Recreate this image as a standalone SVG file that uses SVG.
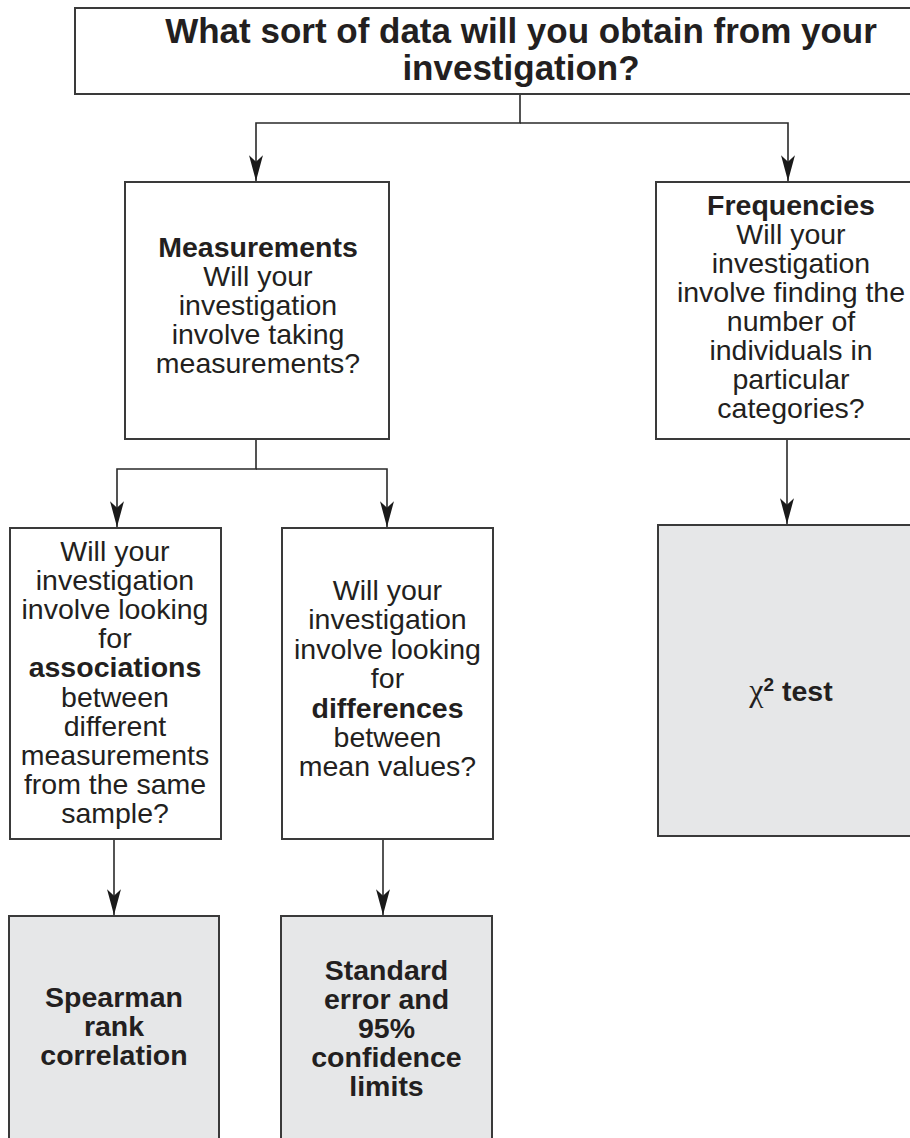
<svg xmlns="http://www.w3.org/2000/svg" width="910" height="1138" viewBox="0 0 910 1138">
<style>
.box{fill:#ffffff;stroke:#3a3a3a;stroke-width:2}
.res{fill:#e6e7e8;stroke:#3a3a3a;stroke-width:2}
.t{font-family:"Liberation Sans",Arial,sans-serif;font-size:28.5px;fill:#231f20;text-anchor:middle}
.b{font-weight:bold}
.title{font-family:"Liberation Sans",Arial,sans-serif;font-size:35px;font-weight:bold;fill:#231f20;text-anchor:middle}
.c{fill:none;stroke:#2a2a2a;stroke-width:1.6}
</style>
<defs>
<marker id="ah" markerUnits="userSpaceOnUse" markerWidth="30" markerHeight="20" viewBox="-26 -8 28 16" refX="0" refY="0" orient="auto">
<path d="M0,0 L-24,-6.5 L-18,0 L-24,6.5 Z" fill="#1a1a1a"/>
</marker>
</defs>
<rect width="910" height="1138" fill="#ffffff"/>

<g id="connectors">
<polyline class="c" points="520,94 520,123 256,123 256,181" marker-end="url(#ah)"/>
<polyline class="c" points="520,123 788,123 788,181" marker-end="url(#ah)"/>
<polyline class="c" points="256,439 256,469 117,469 117,527" marker-end="url(#ah)"/>
<polyline class="c" points="256,469 387,469 387,527" marker-end="url(#ah)"/>
<polyline class="c" points="787,439 787,524" marker-end="url(#ah)"/>
<polyline class="c" points="114,840 114,915" marker-end="url(#ah)"/>
<polyline class="c" points="383,840 383,915" marker-end="url(#ah)"/>
</g>

<g id="n-title">
<rect class="box" x="75" y="8" width="890" height="86"/>
<text class="title" x="521" y="43">What sort of data will you obtain from your</text>
<text class="title" x="521" y="80">investigation?</text>
</g>

<g id="n-measurements">
<rect class="box" x="125" y="182" width="264" height="257"/>
<text class="t" x="258" y="257"><tspan class="b" x="258">Measurements</tspan><tspan x="258" dy="29">Will your</tspan><tspan x="258" dy="29">investigation</tspan><tspan x="258" dy="29">involve taking</tspan><tspan x="258" dy="29">measurements?</tspan></text>
</g>

<g id="n-frequencies">
<rect class="box" x="656" y="182" width="264" height="257"/>
<text class="t" x="791" y="215"><tspan class="b" x="791">Frequencies</tspan><tspan x="791" dy="29">Will your</tspan><tspan x="791" dy="29">investigation</tspan><tspan x="791" dy="29">involve finding the</tspan><tspan x="791" dy="29">number of</tspan><tspan x="791" dy="29">individuals in</tspan><tspan x="791" dy="29">particular</tspan><tspan x="791" dy="29">categories?</tspan></text>
</g>

<g id="n-associations">
<rect class="box" x="10" y="528" width="211" height="311"/>
<text class="t" x="115" y="561"><tspan x="115">Will your</tspan><tspan x="115" dy="29.1">investigation</tspan><tspan x="115" dy="29.1">involve looking</tspan><tspan x="115" dy="29.1">for</tspan><tspan class="b" x="115" dy="29.1">associations</tspan><tspan x="115" dy="29.1">between</tspan><tspan x="115" dy="29.1">different</tspan><tspan x="115" dy="29.1">measurements</tspan><tspan x="115" dy="29.1">from the same</tspan><tspan x="115" dy="29.1">sample?</tspan></text>
</g>

<g id="n-differences">
<rect class="box" x="282" y="528" width="211" height="311"/>
<text class="t" x="387.5" y="600"><tspan x="387.5">Will your</tspan><tspan x="387.5" dy="29.4">investigation</tspan><tspan x="387.5" dy="29.4">involve looking</tspan><tspan x="387.5" dy="29.4">for</tspan><tspan class="b" x="387.5" dy="29.4">differences</tspan><tspan x="387.5" dy="29.4">between</tspan><tspan x="387.5" dy="29.4">mean values?</tspan></text>
</g>

<g id="n-chi">
<rect class="res" x="658" y="525" width="262" height="311"/>
<text class="t b" x="791" y="701"><tspan font-family="'Liberation Serif',serif" font-weight="normal" font-size="32">χ</tspan><tspan font-size="19" dy="-10">2</tspan><tspan dy="10"> test</tspan></text>
</g>

<g id="n-spearman">
<rect class="res" x="9" y="916" width="210" height="240"/>
<text class="t b" x="114" y="1007"><tspan x="114">Spearman</tspan><tspan x="114" dy="29">rank</tspan><tspan x="114" dy="29">correlation</tspan></text>
</g>

<g id="n-standard">
<rect class="res" x="281" y="916" width="211" height="240"/>
<text class="t b" x="386.5" y="980"><tspan x="386.5">Standard</tspan><tspan x="386.5" dy="29">error and</tspan><tspan x="386.5" dy="29">95%</tspan><tspan x="386.5" dy="29">confidence</tspan><tspan x="386.5" dy="29">limits</tspan></text>
</g>
</svg>
